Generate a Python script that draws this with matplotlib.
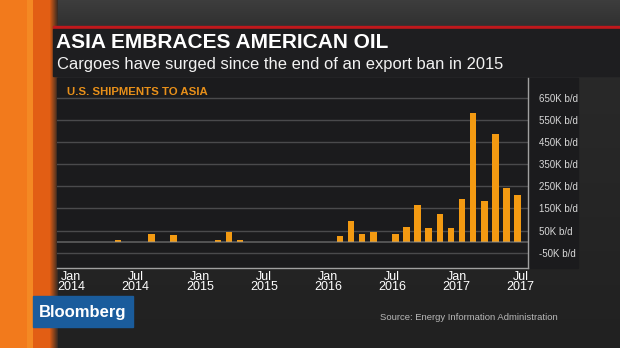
import matplotlib
matplotlib.use('Agg')
import matplotlib.pyplot as plt
from matplotlib.patches import Rectangle
import numpy as np

# monthly U.S. crude shipments to Asia, thousand b/d (Jan 2014 .. Jun 2017)
shipments = [-2.5, -2.5, -2.5, -2.5, -2.5, 8, -2.5, -2.5, 32, -2.5, 30, -2.5, -2.5, -2.5,
             8, 44, 8, -2.5, -2.5, -2.5, -2.5, -2.5, -2.5, -2.5, -2.5,
             27, 91, 35, 44, -3, 33, 66, 165, 60, 127, 63,
             195, 582, 183, 487, 245, 212]
tick_months = [0, 6, 12, 18, 24, 30, 36, 42]
tick_labels = ["Jan\n2014", "Jul\n2014", "Jan\n2015", "Jul\n2015",
               "Jan\n2016", "Jul\n2016", "Jan\n2017", "Jul\n2017"]
y_ticks = [-50, 50, 150, 250, 350, 450, 550, 650]

title = "ASIA EMBRACES AMERICAN OIL"
subtitle = "Cargoes have surged since the end of an export ban in 2015"
panel_title = "U.S. SHIPMENTS TO ASIA"
source = "Source: Energy Information Administration"

W, H = 620, 348
ORANGE = "#f39a12"

fig = plt.figure(figsize=(W / 100, H / 100), dpi=100)
fig.patch.set_facecolor("#262626")

# --- background, drawn in pixel coordinates ---
bg = fig.add_axes([0, 0, 1, 1], zorder=0)
bg.set_xlim(0, W)
bg.set_ylim(H, 0)
bg.axis("off")

img = np.zeros((H, W, 3))
rows = np.linspace(0, 1, H)[:, None]
img[:] = (0.17 - 0.04 * rows)[:, :, None]
img[:27, :, :] = np.linspace(0.24, 0.19, 27)[:, None, None]
for x in range(58):
    if x < 27:
        c = (0.95, 0.48, 0.11)
    elif x < 33:
        c = (0.96, 0.54, 0.14)
    elif x < 49:
        c = (0.89, 0.37, 0.08)
    else:
        f = (58 - x) / 9
        c = (0.89 * f + 0.16 * (1 - f), 0.37 * f + 0.15 * (1 - f), 0.08 * f + 0.14 * (1 - f))
    img[:, x, :] = c
bg.imshow(img, extent=(0, W, H, 0), aspect="auto", zorder=0)

bg.add_patch(Rectangle((53, 26), W - 53, 3, color="#c0181c", zorder=1))
bg.add_patch(Rectangle((53, 29), W - 53, 47, color="#1e1e20", zorder=1))
bg.add_patch(Rectangle((57, 78), 521, 190, color="#1b1b1d", zorder=1))
bg.add_patch(Rectangle((33, 296), 100, 31, color="#1a5c9c", zorder=1))

bg.text(56, 43, title, color="white", fontsize=15, fontweight="bold",
        family="Liberation Sans", va="center", ha="left", zorder=2)
bg.text(57, 64, subtitle, color="#f2f2f2", fontsize=11.9,
        family="Liberation Sans", va="center", ha="left", zorder=2)
bg.text(67, 92, panel_title, color="#e8901a", fontsize=8.2, fontweight="bold",
        family="Liberation Sans", va="center", ha="left", zorder=2)
bg.text(83, 312, "Bloomberg", color="white", fontsize=12, fontweight="bold",
        family="Liberation Sans", va="center", ha="center", zorder=2)
bg.text(380, 318, source, color="#b8b8b8", fontsize=6.8,
        family="Liberation Sans", va="center", ha="left", zorder=2)

# --- chart ---
ax = fig.add_axes([57 / W, (H - 268) / H, 470.5 / W, 190 / H], zorder=2)
ax.set_facecolor("none")
months = np.arange(len(shipments)) + 0.5
ax.bar(months, shipments, width=0.6, color=ORANGE, zorder=3)
ax.axhline(0, color="#9a9a9a", linewidth=1.4, alpha=0.45, zorder=4)
for v in y_ticks:
    ax.axhline(v, color="#4a4a4c", linewidth=1, zorder=1)

ax.set_xlim(0, 42.4)
ax.set_ylim(-120, 742)
# the broadcast graphic spaces its date labels a little tighter than the bars
ax.set_xticks([1.3 + m * 0.964 for m in tick_months])
ax.set_xticklabels(tick_labels, color="white", fontsize=9, linespacing=0.85,
                   family="Liberation Sans")
ax.yaxis.tick_right()
ax.set_yticks(y_ticks)
ax.set_yticklabels([f"{v}K b/d" for v in y_ticks], color="#d8d8d8", fontsize=7,
                   family="Liberation Sans")
ax.tick_params(axis="both", length=0)
ax.tick_params(axis="y", pad=8)
ax.tick_params(axis="x", pad=2)
for side in ["top", "left"]:
    ax.spines[side].set_visible(False)
for side in ["right", "bottom"]:
    ax.spines[side].set_color("#a0a0a0")
    ax.spines[side].set_linewidth(1)

fig.savefig("out.png", dpi=100, facecolor=fig.get_facecolor())
